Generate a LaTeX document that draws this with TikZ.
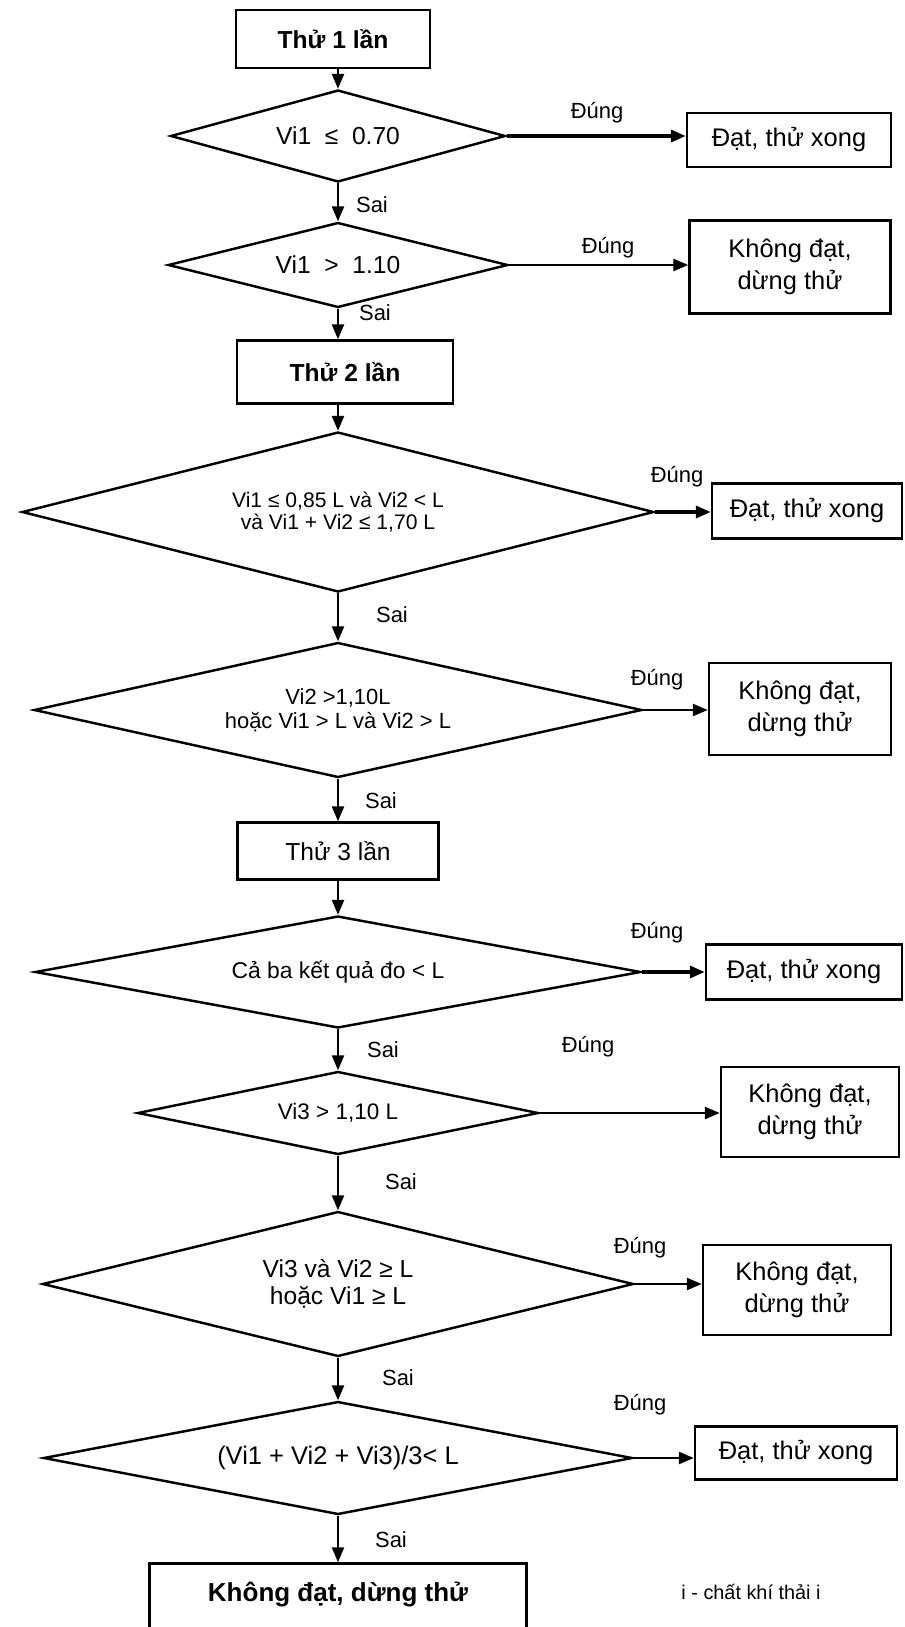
\documentclass[tikz,border=0pt]{standalone}
\usepackage{fontspec}
\setmainfont{Liberation Sans}
\usetikzlibrary{arrows.meta,shapes.geometric}

\tikzset{
  stepbox/.style={draw, line width=1.4pt, align=center, inner sep=2pt, font=\fontsize{14.5}{18}\selectfont},
  titlebox/.style={stepbox, font=\bfseries\fontsize{14}{17}\selectfont},
  test/.style={diamond, draw, line width=1.4pt, aspect=3, inner sep=0pt, align=center},
  tag/.style={font=\fontsize{12.5}{15}\selectfont},
  flow/.style={-{Triangle[length=3mm,width=2.4mm]}, line width=1.4pt},
  thickflow/.style={flow, line width=2pt}
}

\begin{document}
\begin{tikzpicture}[x=0.02cm, y=-0.02cm]
        \useasboundingbox (0,0) rectangle (904,1627);
        \clip (0,0) rectangle (904,1627);

        %thu 1 lan
        \node[titlebox, minimum width=3.88cm, minimum height=1.16cm] (try1) at (333,39) {Thử 1 lần};
        \node[test, minimum width=6.7cm, minimum height=1.84cm, font=\fontsize{14}{17}\selectfont] (d1) at (338,136) {Vi1~~≤~~0.70};
        \node[stepbox, minimum width=4.08cm, minimum height=1.08cm] (ok1) at (789,140) {Đạt, thử xong};
        \node[test, minimum width=6.8cm, minimum height=1.7cm, font=\fontsize{14}{17}\selectfont] (d2) at (338,265) {Vi1~~>~~1.10};
        \node[stepbox, minimum width=4.02cm, minimum height=1.86cm] (fail1) at (790,267) {Không đạt,\\dừng thử};

        \draw[flow] (d1.north |- try1.south) -- (d1.north);
        \draw[thickflow] (d1.east) -- (d1.east -| ok1.west);
        \draw[flow] (d1.south) -- (d2.north);
        \draw[flow] (d2.east) -- (d2.east -| fail1.west);
        \node[tag] (y1) at (597,113) {Đúng};
        \node[tag] (n1) at (372,205) {Sai};
        \node[tag] (y2) at (608,248) {Đúng};
        \node[tag] (n2) at (375,313) {Sai};

        %thu 2 lan
        \node[titlebox, minimum width=4.32cm, minimum height=1.26cm] (try2) at (345,372) {Thử 2 lần};
        \draw[flow] (d2.south) -- (d2.south |- try2.north);

        \node[test, minimum width=12.64cm, minimum height=3.2cm, font=\fontsize{12}{12.5}\selectfont] (d3) at (338,512)
            {Vi1 ≤ 0,85 L và Vi2 < L\\và Vi1 + Vi2 ≤ 1,70 L};
        \node[stepbox, minimum width=3.8cm, minimum height=1.1cm] (ok2) at (807,511) {Đạt, thử xong};
        \node[test, minimum width=12.16cm, minimum height=2.7cm, font=\fontsize{12.5}{14}\selectfont] (d4) at (338,710)
            {Vi2 >1,10L\\hoặc Vi1 > L và Vi2 > L};
        \node[stepbox, minimum width=3.64cm, minimum height=1.84cm] (fail2) at (800,709) {Không đạt,\\dừng thử};

        \draw[flow] (d3.north |- try2.south) -- (d3.north);
        \draw[thickflow] (d3.east) -- (d3.east -| ok2.west);
        \draw[flow] (d3.south) -- (d4.north);
        \draw[flow] (d4.east) -- (d4.east -| fail2.west);
        \node[tag] (y3) at (677,477) {Đúng};
        \node[tag] (n3) at (392,615) {Sai};
        \node[tag] (y4) at (657,680) {Đúng};
        \node[tag] (n4) at (381,801) {Sai};

        %thu 3 lan
        \node[titlebox, font=\fontsize{14}{17}\selectfont, minimum width=4.02cm, minimum height=1.14cm] (try3) at (338,851) {Thử 3 lần};
        \draw[flow] (d4.south) -- (d4.south |- try3.north);

        \node[test, minimum width=12.12cm, minimum height=2.24cm, font=\fontsize{13}{15}\selectfont] (d5) at (338,972) {Cả ba kết quả đo < L};
        \node[stepbox, minimum width=3.92cm, minimum height=1.1cm] (ok3) at (804,972) {Đạt, thử xong};
        \node[test, minimum width=8.02cm, minimum height=1.66cm, font=\fontsize{12.8}{15}\selectfont] (d6) at (338,1113) {Vi3 > 1,10 L};
        \node[stepbox, minimum width=3.56cm, minimum height=1.8cm] (fail3) at (810,1112) {Không đạt,\\dừng thử};
        \node[test, minimum width=11.82cm, minimum height=2.9cm, font=\fontsize{14}{15.4}\selectfont] (d7) at (338,1284)
            {Vi3 và Vi2 ≥ L\\hoặc Vi1 ≥ L};
        \node[stepbox, minimum width=3.76cm, minimum height=1.8cm] (fail4) at (797,1290) {Không đạt,\\dừng thử};
        \node[test, minimum width=11.78cm, minimum height=2.26cm, font=\fontsize{14.5}{17}\selectfont] (d8) at (338,1458)
            {(Vi1 + Vi2 + Vi3)/3< L};
        \node[stepbox, minimum width=4.04cm, minimum height=1.06cm] (ok4) at (796,1453) {Đạt, thử xong};
        \node[stepbox, font=\bfseries\fontsize{14.8}{17}\selectfont, anchor=base, minimum width=7.54cm,
            text height=0.55cm, text depth=1.2cm, inner ysep=0.2cm] (fail5) at (338,1601) {Không đạt, dừng thử};

        \draw[flow] (d5.north |- try3.south) -- (d5.north);
        \draw[thickflow] (d5.east) -- (d5.east -| ok3.west);
        \draw[flow] (d5.south) -- (d6.north);
        \draw[flow] (d6.east) -- (d6.east -| fail3.west);
        \draw[flow] (d6.south) -- (d7.north);
        \draw[flow] (d7.east) -- (d7.east -| fail4.west);
        \draw[flow] (d7.south) -- (d8.north);
        \draw[flow] (d8.east) -- (d8.east -| ok4.west);
        \draw[flow] (d8.south) -- (d8.south |- fail5.north);
        \node[tag] (y5) at (657,933) {Đúng};
        \node[tag] (n5) at (383,1050) {Sai};
        \node[tag] (y6) at (588,1047) {Đúng};
        \node[tag] (n6) at (401,1182) {Sai};
        \node[tag] (y7) at (640,1248) {Đúng};
        \node[tag] (n7) at (398,1378) {Sai};
        \node[tag] (y8) at (640,1405) {Đúng};
        \node[tag] (n8) at (391,1540) {Sai};

        \node[font=\fontsize{11.3}{13}\selectfont] (note) at (751,1592) {i - chất khí thải i};
\end{tikzpicture}
\end{document}
